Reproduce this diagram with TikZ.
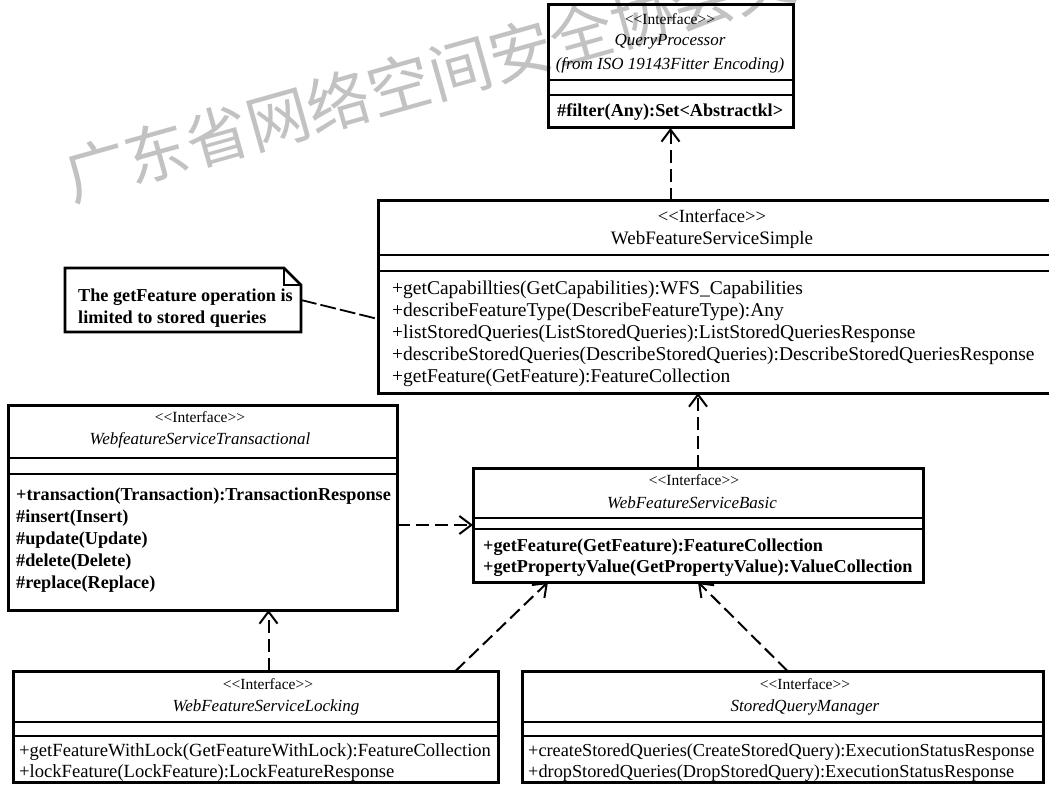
\documentclass[tikz,border=0pt]{standalone}
\usepackage{fontspec}
\setmainfont{Liberation Serif}
\newfontfamily\cjkfont{Noto Sans CJK SC}
\usetikzlibrary{arrows.meta}

% font sizes for the class boxes
\newcommand\opreg{\fontsize{19.5}{22}\selectfont}
\newcommand\opsmall{\fontsize{18.6}{21}\selectfont}
\newcommand\opsmaller{\fontsize{18.3}{21}\selectfont}
\newcommand\opbold{\fontsize{18.2}{22}\selectfont\bfseries}
\newcommand\stsmall{\fontsize{15.5}{18}\selectfont}
\newcommand\stlarge{\fontsize{18.6}{21}\selectfont}
\newcommand\ttlit{\fontsize{17}{20}\selectfont\itshape}
\newcommand\ttlreg{\fontsize{19}{22}\selectfont}
\newcommand\stereotype[1]{<\kern0pt<#1>\kern0pt>}

\begin{document}
\begin{tikzpicture}[x=1pt,y=-1pt,
  umlbox/.style={draw, line width=3pt, anchor=north west, inner sep=0pt, outer sep=0pt},
  compart/.style={line width=1.7pt},
  dep/.style={line width=2pt, dash pattern=on 13pt off 6pt,
    -{Straight Barb[length=12pt,width=18pt,line width=2pt]}},
  notelink/.style={line width=1.8pt, dash pattern=on 16pt off 4pt},
  notebox/.style={line width=2.8pt, line join=miter},
  sttext/.style={inner sep=0pt, font=\stsmall},
  sttextl/.style={inner sep=0pt, font=\stlarge},
  ttltext/.style={inner sep=0pt, font=\ttlit},
  ttlplain/.style={inner sep=0pt, font=\ttlreg},
  optext/.style={inner sep=0pt, anchor=west, font=\opreg},
  opsm/.style={inner sep=0pt, anchor=west, font=\opsmall},
  opsmr/.style={inner sep=0pt, anchor=west, font=\opsmaller},
  opb/.style={inner sep=0pt, anchor=west, font=\opbold},
  wmark/.style={inner sep=0pt, anchor=base west, rotate=15.7, text=black!24,
    font=\cjkfont\fontsize{63}{63}\selectfont}
]
\fill[white] (0,0) rectangle (1049,786);
\useasboundingbox (0,0) rectangle (1049,786);

% watermark
\begin{scope}
\clip (0,0) rectangle (1049,786);
\node[wmark] (wm) at (72,202) {广东省网络空间安全协会文件};
\end{scope}

% ---- class boxes ----
\node[umlbox, minimum width=245pt, minimum height=123pt] (qp) at (548,5) {};
\node[umlbox, minimum width=674pt, minimum height=192pt] (simple) at (378,201) {};
\node[umlbox, minimum width=389pt, minimum height=205pt] (trans) at (8,405) {};
\node[umlbox, minimum width=450pt, minimum height=114pt] (basic) at (473,468) {};
\node[umlbox, minimum width=485pt, minimum height=111pt] (locking) at (13,671) {};
\node[umlbox, minimum width=521pt, minimum height=111pt] (sqm) at (522,671) {};

% compartment separators
\draw[compart] (qp.west |- 0,80) -- (qp.east |- 0,80);
\draw[compart] (qp.west |- 0,95) -- (qp.east |- 0,95);
\draw[compart] (simple.west |- 0,255) -- (simple.east |- 0,255);
\draw[compart] (simple.west |- 0,271) -- (simple.east |- 0,271);
\draw[compart] (trans.west |- 0,458) -- (trans.east |- 0,458);
\draw[compart] (trans.west |- 0,474) -- (trans.east |- 0,474);
\draw[compart] (basic.west |- 0,518) -- (basic.east |- 0,518);
\draw[compart] (basic.west |- 0,529) -- (basic.east |- 0,529);
\draw[compart] (locking.west |- 0,722) -- (locking.east |- 0,722);
\draw[compart] (locking.west |- 0,736) -- (locking.east |- 0,736);
\draw[compart] (sqm.west |- 0,722) -- (sqm.east |- 0,722);
\draw[compart] (sqm.west |- 0,736) -- (sqm.east |- 0,736);

% ---- QueryProcessor ----
\node[sttext] (qpst) at (670,19) {\stereotype{Interface}};
\node[ttltext] (qpname) at (670,42) {QueryProcessor};
\node[ttltext] (qpfrom) at (670,65) {(from ISO 19143Fitter Encoding)};
\node[opb] (qpop) at (557,112) {\#filter(Any):Set<Abstractkl>};

% ---- WebFeatureServiceSimple ----
\node[sttextl] (sist) at (712,216) {\stereotype{Interface}};
\node[ttlplain] (siname) at (712,240) {WebFeatureServiceSimple};
\node[optext] (si1) at (392,290) {+getCapabillties(GetCapabilities):WFS\_Capabilities};
\node[optext] (si2) at (392,312) {+describeFeatureType(DescribeFeatureType):Any};
\node[optext] (si3) at (392,334) {+listStoredQueries(ListStoredQueries):ListStoredQueriesResponse};
\node[optext] (si4) at (392,356) {+describeStoredQueries(DescribeStoredQueries):DescribeStoredQueriesResponse};
\node[optext] (si5) at (392,378) {+getFeature(GetFeature):FeatureCollection};

% ---- note ----
\node[minimum width=236pt, minimum height=64pt, anchor=north west, inner sep=0pt, outer sep=0pt] (note) at (65,268) {};
\draw[notebox] (note.north west) -- ([xshift=-17pt]note.north east)
  -- ([yshift=-17pt]note.north east) -- (note.south east) -- (note.south west) -- cycle;
\draw[line width=1.8pt] ([xshift=-17pt]note.north east) -- ([xshift=-17pt,yshift=-17pt]note.north east)
  -- ([yshift=-17pt]note.north east);
\node[opb] (note1) at (78,297) {The getFeature operation is};
\node[opb] (note2) at (78,319) {limited to stored queries};

% ---- WebfeatureServiceTransactional ----
\node[sttext] (trst) at (200,417) {\stereotype{Interface}};
\node[ttltext] (trname) at (200,440) {WebfeatureServiceTransactional};
\node[opb] (tr1) at (16,496) {+transaction(Transaction):TransactionResponse};
\node[opb] (tr2) at (16,518) {\#insert(Insert)};
\node[opb] (tr3) at (16,540) {\#update(Update)};
\node[opb] (tr4) at (16,562) {\#delete(Delete)};
\node[opb] (tr5) at (16,584) {\#replace(Replace)};

% ---- WebFeatureServiceBasic ----
\node[sttext] (bast) at (694,480) {\stereotype{Interface}};
\node[ttltext] (baname) at (692,503) {WebFeatureServiceBasic};
\node[opb] (ba1) at (483,547) {+getFeature(GetFeature):FeatureCollection};
\node[opb] (ba2) at (483,568) {+getPropertyValue(GetPropertyValue):ValueCollection};

% ---- WebFeatureServiceLocking ----
\node[sttext] (lost) at (268,684) {\stereotype{Interface}};
\node[ttltext] (loname) at (266,707) {WebFeatureServiceLocking};
\node[opsm] (lo1) at (19,752) {+getFeatureWithLock(GetFeatureWithLock):FeatureCollection};
\node[opsm] (lo2) at (19,773) {+lockFeature(LockFeature):LockFeatureResponse};

% ---- StoredQueryManager ----
\node[sttext] (sqst) at (805,684) {\stereotype{Interface}};
\node[ttltext] (sqname) at (805,707) {StoredQueryManager};
\node[opsmr] (sq1) at (528,752) {+createStoredQueries(CreateStoredQuery):ExecutionStatusResponse};
\node[opsmr] (sq2) at (528,773) {+dropStoredQueries(DropStoredQuery):ExecutionStatusResponse};

% ---- relationships ----
\draw[dep] (qp.south |- simple.north) -- (qp.south);
\draw[dep] (basic.north) -- (basic.north |- simple.south);
\draw[dep] (trans.east |- basic.west) -- (basic.west);
\coordinate (lockup) at ([xshift=13pt]locking.north);
\draw[dep] (lockup) -- (lockup |- trans.south);
\draw[dep] ([xshift=200pt]locking.north) -- ([xshift=-150pt]basic.south);
\draw[dep] ([xshift=5pt]sqm.north) -- (basic.south);
\draw[notelink] (note.east) -- ([yshift=-22pt]simple.west);
\end{tikzpicture}
\end{document}
